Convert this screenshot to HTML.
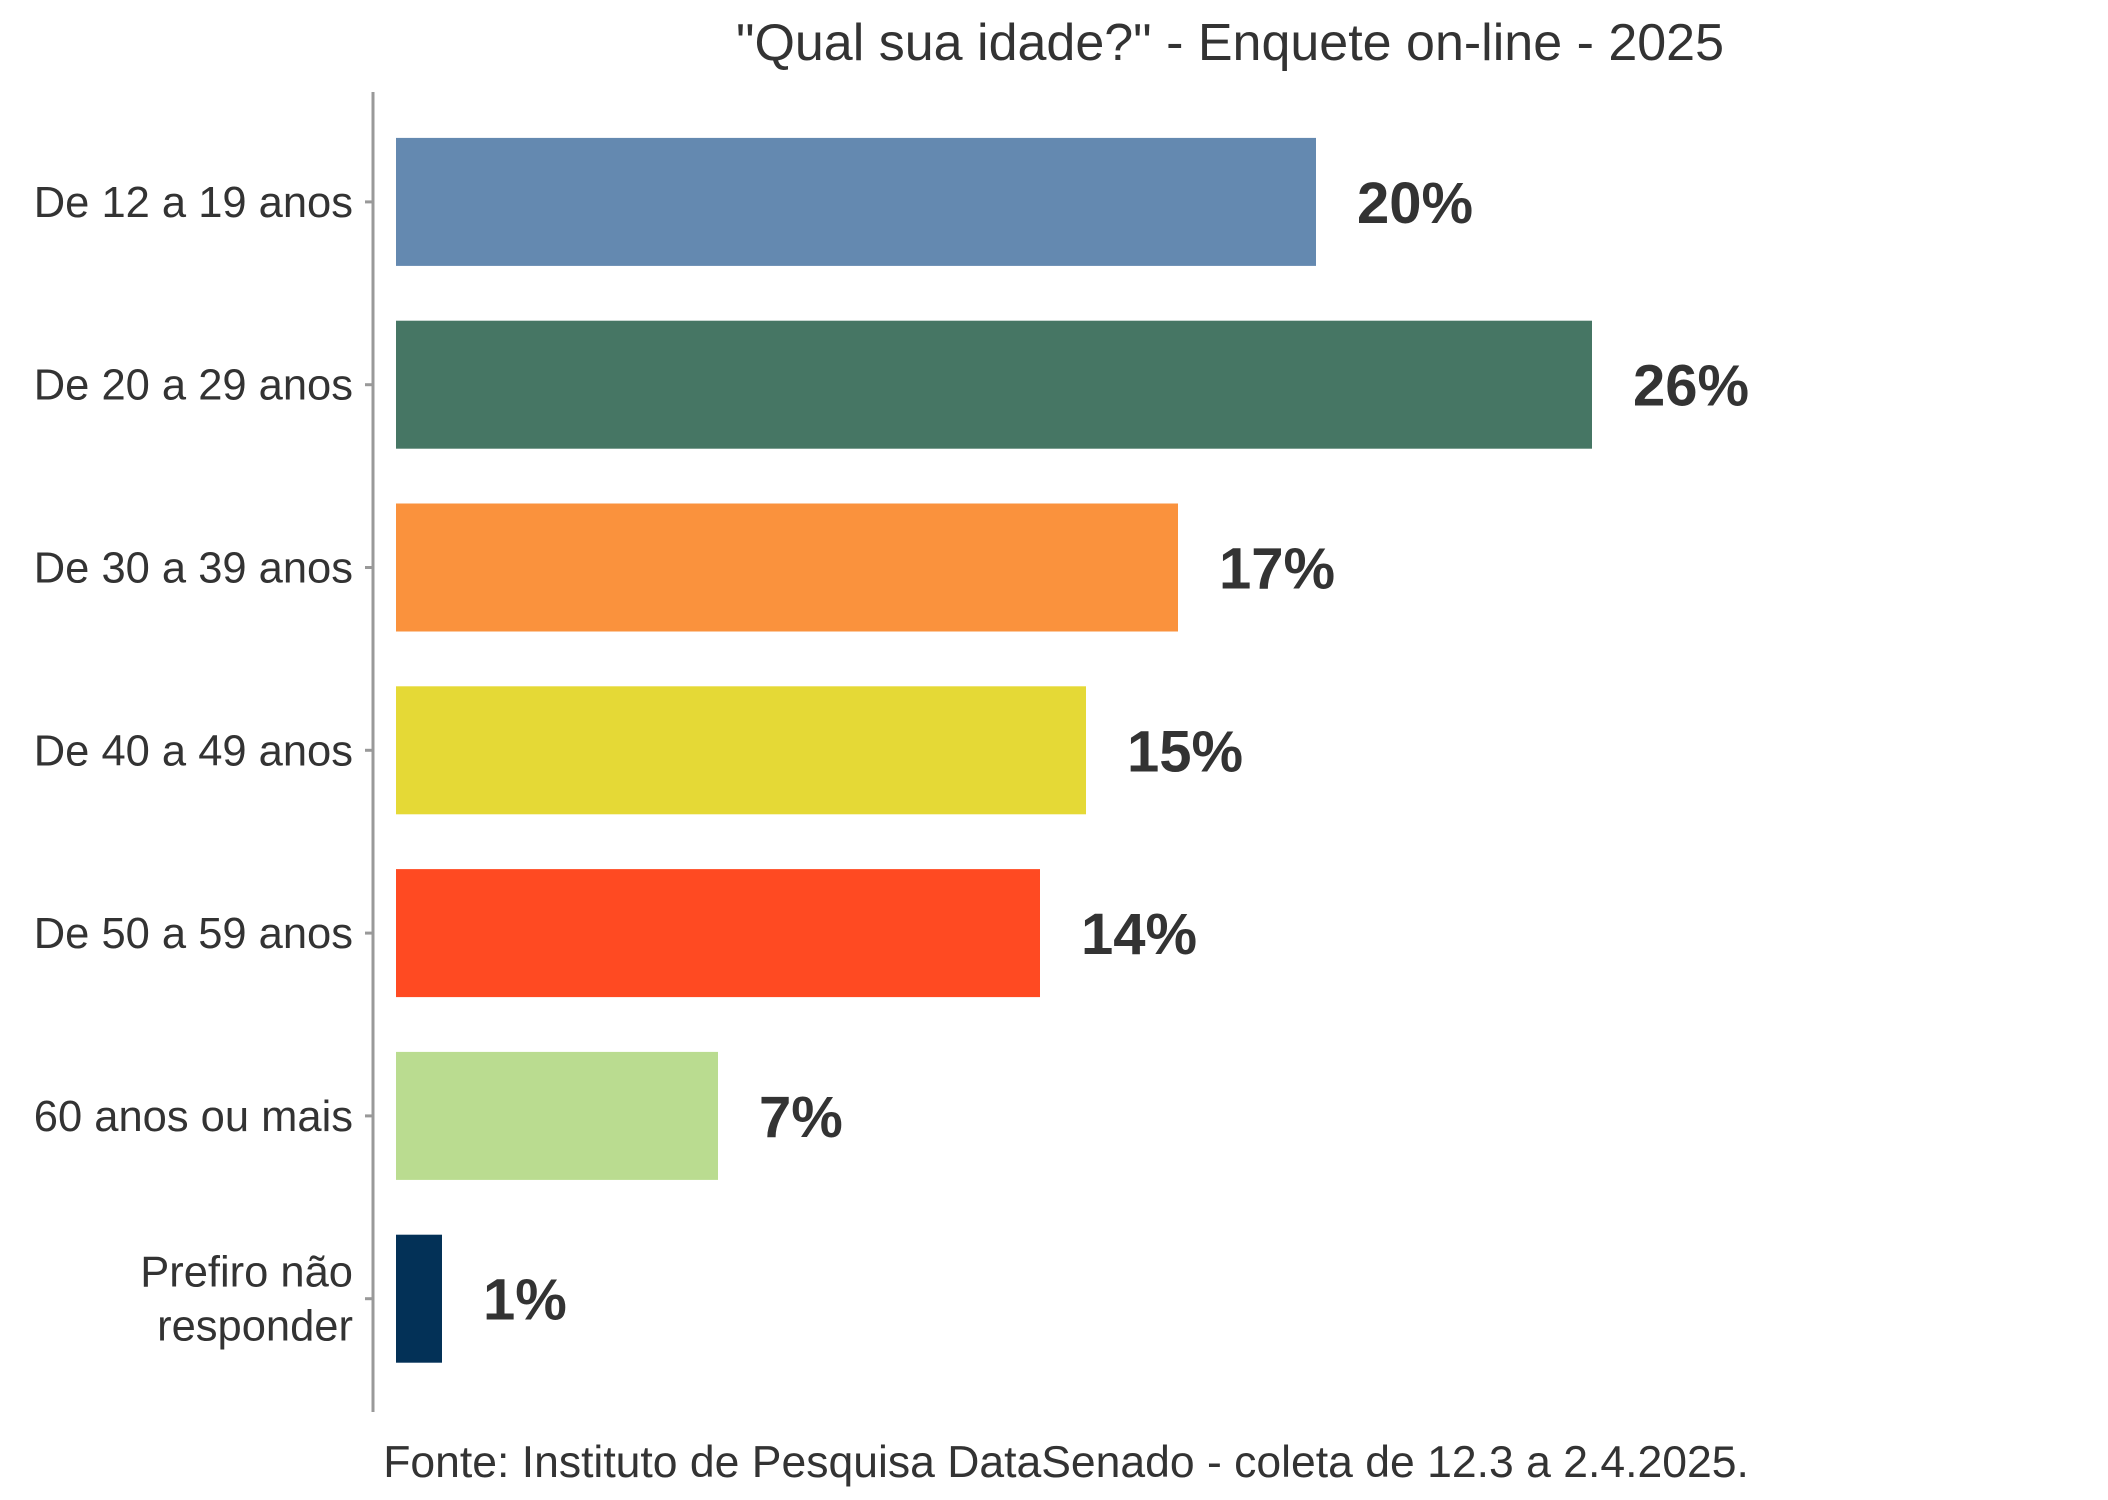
<!DOCTYPE html>
<html><head><meta charset="utf-8"><style>html,body{margin:0;padding:0;background:#fff}svg{display:block}</style></head>
<body>
<svg id="chart" width="2108" height="1500" viewBox="0 0 2108 1500" xmlns="http://www.w3.org/2000/svg">
<text x="1230" y="60" text-anchor="middle" font-family="Liberation Sans, sans-serif" font-size="52" fill="#333">"Qual sua idade?" - Enquete on-line - 2025</text>
<line x1="373" y1="92" x2="373" y2="1412" stroke="#999" stroke-width="3"/>
<g id="bars"></g>
<text x="1066" y="1477" text-anchor="middle" font-family="Liberation Sans, sans-serif" font-size="44.5" fill="#333">Fonte: Instituto de Pesquisa DataSenado - coleta de 12.3 a 2.4.2025.</text>
</svg>
<script>
const categories = [["De 12 a 19 anos"],["De 20 a 29 anos"],["De 30 a 39 anos"],["De 40 a 49 anos"],["De 50 a 59 anos"],["60 anos ou mais"],["Prefiro não","responder"]];
const values = [20,26,17,15,14,7,1];
const valueLabels = ["20%","26%","17%","15%","14%","7%","1%"];
const colors = ["#6489b0","#467664","#fa923d","#e5d936","#ff4a22","#badc90","#033157"];
const NS="http://www.w3.org/2000/svg";
const x0=396, perUnit=46.0, rowTop=110.5, rowStep=182.8, barH=128;
const xScale=v=>v*perUnit;
const yCenter=i=>rowTop+rowStep*i+rowStep/2;
const g=document.getElementById('bars');
function mk(t,a){const e=document.createElementNS(NS,t);for(const k in a)e.setAttribute(k,a[k]);return e;}
values.forEach((v,i)=>{
  const cy=yCenter(i);
  const r=mk('rect',{x:x0,y:cy-barH/2,width:xScale(v),height:barH,fill:colors[i]});
  
  
  g.appendChild(r);
  const t=mk('text',{x:x0+xScale(v)+41,y:cy+21,'font-family':'Liberation Sans, sans-serif','font-size':'58','font-weight':'bold',fill:'#333'});
  t.textContent=valueLabels[i];
  
  
  g.appendChild(t);
  const tk=mk('line',{x1:365,y1:cy,x2:373,y2:cy,stroke:'#999','stroke-width':3});
  
  
  g.appendChild(tk);
  const lines=categories[i];
  const lt=mk('text',{x:353,'text-anchor':'end','font-family':'Liberation Sans, sans-serif','font-size':'43.5',fill:'#333'});
  
  
  lines.forEach((s,j)=>{const ts=mk('tspan',{x:353,y:cy+15+(j-(lines.length-1)/2)*54});ts.textContent=s;lt.appendChild(ts);});
  g.appendChild(lt);
});
</script>
</body></html>
